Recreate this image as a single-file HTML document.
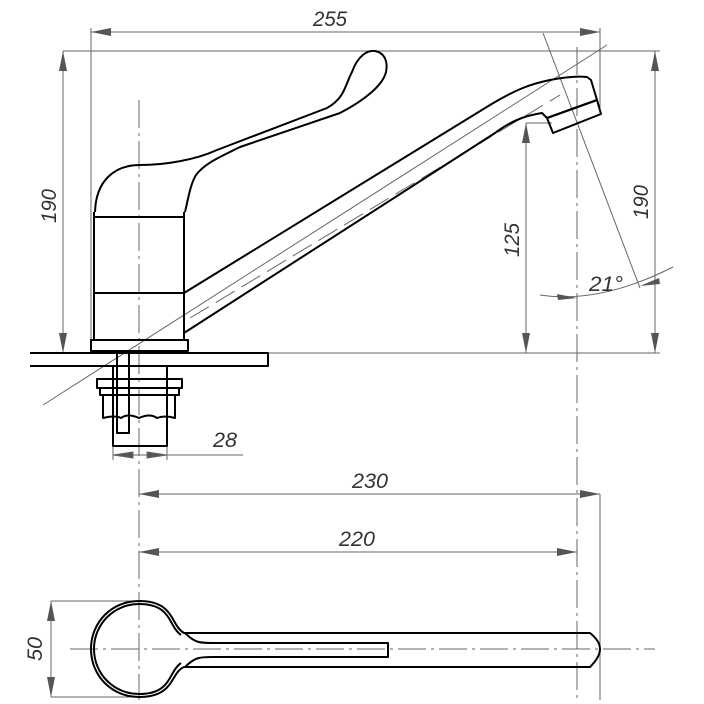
<!DOCTYPE html>
<html><head><style>html,body{margin:0;padding:0;background:#fff}svg{display:block}</style></head><body>
<svg width="704" height="704" viewBox="0 0 704 704" xmlns="http://www.w3.org/2000/svg">
<defs>
<marker id="a" viewBox="0 0 20 8" refX="20" refY="4" markerWidth="20" markerHeight="8" markerUnits="userSpaceOnUse" orient="auto-start-reverse"><path d="M0,0 L20,4 L0,8 Z" fill="#555"/></marker>
</defs>
<g stroke="#666" stroke-width="1" fill="none">
<line x1="91" y1="32" x2="600" y2="32" marker-start="url(#a)" marker-end="url(#a)"/>
<line x1="91" y1="28" x2="91" y2="345"/>
<line x1="600" y1="28" x2="600" y2="113"/>
<line x1="63" y1="51" x2="660" y2="51"/>
<line x1="63" y1="51" x2="63" y2="353" marker-start="url(#a)" marker-end="url(#a)"/>
<line x1="30" y1="353" x2="660" y2="353"/>
<line x1="655" y1="51" x2="655" y2="353" marker-start="url(#a)" marker-end="url(#a)"/>
<line x1="526" y1="123" x2="526" y2="353" marker-start="url(#a)" marker-end="url(#a)"/>
<line x1="526" y1="123" x2="552" y2="123"/>
<line x1="543" y1="33" x2="640" y2="288"/>
<line x1="607" y1="45" x2="43" y2="405"/>
<path d="M540,295 Q600,304 673,267"/>
<line x1="577" y1="47" x2="577" y2="700" stroke-dasharray="28,5,3,5"/>
<line x1="139" y1="100" x2="139" y2="700" stroke-dasharray="28,5,3,5"/>
<line x1="600" y1="494" x2="600" y2="700"/>
<line x1="113" y1="455" x2="167" y2="455"/>
<path d="M113,455 l20,-3 v6z M167,455 l-20,-3 v6z" fill="#555"/>
<line x1="167" y1="455" x2="243" y2="455"/>
<line x1="113" y1="445" x2="113" y2="460"/><line x1="167" y1="445" x2="167" y2="460"/>
<line x1="139" y1="494" x2="600" y2="494" marker-start="url(#a)" marker-end="url(#a)"/>
<line x1="139" y1="552" x2="577" y2="552" marker-start="url(#a)" marker-end="url(#a)"/>
<line x1="51" y1="601" x2="51" y2="697" marker-start="url(#a)" marker-end="url(#a)"/>
<line x1="51" y1="601" x2="139" y2="601"/><line x1="51" y1="697" x2="139" y2="697"/>
<line x1="70" y1="649" x2="655" y2="649" stroke-dasharray="28,5,3,5"/>
<line x1="190" y1="318" x2="560" y2="95" stroke-dasharray="22,8"/>
</g>
<path d="M577,298 l-20,-4 l1,6z M640,286 l19,-8 l1,6z" fill="#555"/>
<g fill="none" stroke="#000" stroke-width="2" stroke-linejoin="round">
<path d="M30,353 H268 V366 H30"/>
<rect x="91" y="340" width="97" height="11"/>
<path d="M94,340 V212 M184,212 V340 M94,217 H184 M94,293 H184"/>
<path d="M95,212 C96,180 115,165 140,165 C165,165 195,160 217,150 L327,108 C345,98 345,85 352,72 C358,55 368,50 375,51 C385,53 388,62 386,72 C383,85 365,100 340,113 L240,147 C220,157 205,163 196,175 C190,185 188,200 185,212"/>
<path d="M184,293 L490,105 C515,90 530,84 550,80 C565,77 578,76 587,77 L591,80 L597,100 L547,118 L542,113 C530,115 515,118 495,133 L184,333"/>
<path d="M547,118 L597,100 L601,114 L553,133 Z"/>
<path d="M113,366 V446 H167 V366"/>
<rect x="117" y="353" width="12" height="80"/>
<path d="M97,379 H182 V388 H97 Z M100,388 H179 V395 H100 Z M103,395 V418 Q115,415 121,418 Q128,413 139,418 Q150,413 157,418 Q165,415 175,418 V395"/>
<path d="M184,633 C170,625 175,601 139,601 C112,601 91,622 91,649 C91,676 112,697 139,697 C175,697 170,673 184,667 L590,667 Q600,657 600,649 Q600,641 590,633 Z"/>
<path d="M181,635 C168,626 172,604 139,604 C114,604 94,624 94,649 C94,674 114,694 139,694 C172,694 168,672 181,663"/>
<path d="M185,633 C195,643 200,643 213,643 H388 V657 H213 C200,657 195,657 185,667"/>
</g>
<g font-family="Liberation Sans, sans-serif" font-style="italic" font-size="21" fill="#333" text-anchor="middle">
<text x="330" y="26" textLength="34" lengthAdjust="spacingAndGlyphs">255</text>
<text x="56" y="206" transform="rotate(-90 56 206)" textLength="34" lengthAdjust="spacingAndGlyphs">190</text>
<text x="648" y="202" transform="rotate(-90 648 202)" textLength="34" lengthAdjust="spacingAndGlyphs">190</text>
<text x="519" y="240" transform="rotate(-90 519 240)" textLength="34" lengthAdjust="spacingAndGlyphs">125</text>
<text x="606" y="291" textLength="34" lengthAdjust="spacingAndGlyphs">21°</text>
<text x="225" y="447" textLength="24" lengthAdjust="spacingAndGlyphs">28</text>
<text x="370" y="488" textLength="36" lengthAdjust="spacingAndGlyphs">230</text>
<text x="357" y="546" textLength="36" lengthAdjust="spacingAndGlyphs">220</text>
<text x="42" y="649" transform="rotate(-90 42 649)" textLength="24" lengthAdjust="spacingAndGlyphs">50</text>
</g>
</svg>
</body></html>
